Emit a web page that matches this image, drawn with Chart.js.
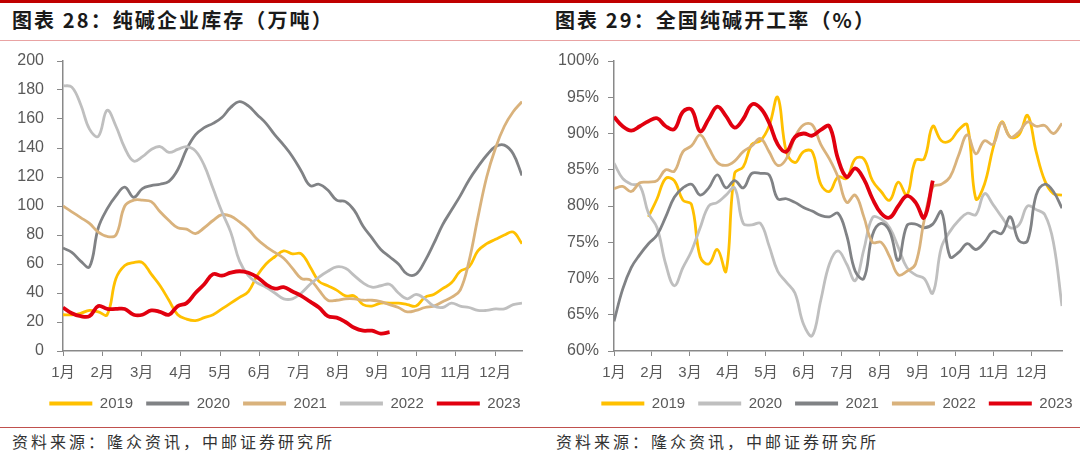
<!DOCTYPE html>
<html>
<head>
<meta charset="utf-8">
<script src="https://cdn.jsdelivr.net/npm/chart.js@4.4.1/dist/chart.umd.min.js"></script>
<style>
    body { margin: 0; width: 1080px; height: 461px; background: #fff; position: relative; overflow: hidden; font-family: "Noto Sans CJK SC", sans-serif; }
    .bar-top { position: absolute; left: 0; top: 0; width: 1080px; height: 3px; background: #C00000; }
    .title-line { position: absolute; left: 0; top: 40px; width: 1080px; height: 1px; background: #E9A3A3; }
    .foot-line { position: absolute; left: 0; top: 427px; width: 1080px; height: 1px; background: #C0504D; }
    .title { position: absolute; top: 5px; font-size: 20px; font-weight: bold; color: #1a1a1a; letter-spacing: 2.1px; }
    .source { position: absolute; top: 429px; font-size: 16px; color: #333; letter-spacing: 3px; }
    .chart { position: absolute; top: 48px; width: 540px; height: 376px; }
</style>
</head>
<body>
<div class="bar-top"></div>
<div class="title" style="left:12px">图表 28：纯碱企业库存（万吨）</div>
<div class="title" style="left:555px">图表 29：全国纯碱开工率（%）</div>
<div class="title-line"></div>
<div class="chart" style="left:0"><canvas id="chartStock"></canvas></div>
<div class="chart" style="left:540px"><canvas id="chartRate"></canvas></div>
<div class="foot-line"></div>
<div class="source" style="left:12px">资料来源：隆众资讯，中邮证券研究所</div>
<div class="source" style="left:556px">资料来源：隆众资讯，中邮证券研究所</div>

<script>
const months = ['1月', '2月', '3月', '4月', '5月', '6月', '7月', '8月', '9月', '10月', '11月', '12月'];
const years = ['2019', '2020', '2021', '2022', '2023'];

// 纯碱企业库存（万吨），周度
const stock2019 = [25, 25, 26, 28, 27, 25, 50, 59, 61, 61, 53, 45, 35, 25, 22, 21, 23, 25, 29, 33, 37, 41, 52, 60, 65, 69, 67, 67, 58, 48, 45, 42, 38, 38, 32, 31, 33, 33, 33, 32, 31, 37, 39, 43, 47, 55, 58, 69, 74, 77, 80, 82, 74];
const stock2020 = [71, 68, 62, 58, 85, 98, 107, 113, 106, 112, 114, 115, 117, 125, 139, 149, 154, 157, 161, 168, 172, 169, 163, 157, 149, 142, 134, 124, 114, 115, 111, 104, 103, 97, 86, 78, 70, 65, 60, 53, 53, 62, 74, 87, 97, 107, 118, 127, 135, 141, 142, 136, 121];
const stock2021 = [100, 96, 92, 88, 82, 79, 80, 100, 104, 104, 103, 96, 90, 85, 84, 81, 85, 90, 94, 93, 89, 84, 77, 72, 68, 64, 57, 50, 49, 42, 35, 35, 36, 36, 35, 35, 34, 32, 30, 27, 28, 30, 31, 34, 37, 42, 62, 92, 120, 140, 155, 165, 172];
const stock2022 = [183, 182, 170, 153, 148, 166, 155, 140, 131, 134, 139, 141, 137, 139, 141, 138, 128, 112, 96, 82, 62, 52, 47, 44, 40, 36, 36, 40, 46, 51, 55, 58, 57, 52, 47, 44, 45, 46, 40, 36, 39, 36, 31, 30, 33, 31, 30, 28, 28, 29, 29, 32, 33];
const stock2023 = [30, 26, 24, 24, 31, 29, 29, 29, 25, 25, 28, 27, 25, 31, 33, 40, 46, 53, 52, 54, 55, 54, 51, 46, 43, 44, 41, 38, 34, 30, 24, 23, 20, 16, 14, 14, 12, 13];

// 全国纯碱开工率（%），周度
const rate2019 = [null, null, null, null, 78.5, 81, 83.8, 83.5, 80.8, 80.2, 73, 72, 74, 71, 84.5, 85.4, 88.5, 89, 91, 95, 87.5, 86, 87.5, 87.5, 83, 82, 84, 83.8, 86.5, 86.5, 83.5, 82, 80.8, 83.3, 81.5, 86.3, 86.5, 91, 89, 89, 90.5, 91.2, 81, 83, 88, 91.6, 89.5, 89.8, 92.5, 87.5, 83.5, 81.7, 81.5];
const rate2020 = [85.9, 83.8, 83, 82.8, 79, 77, 72, 69, 71.5, 73.8, 77, 80, 80.5, 81.5, 82.5, 77.6, 77.4, 77.6, 74.5, 71, 69.5, 68, 63.7, 62.1, 67, 72, 73.8, 72, 69.7, 74, 78.4, 78.2, 77, 74.3, 71.5, 70.5, 70, 68, 74.3, 76.5, 78, 79, 78.8, 81.7, 80.2, 78.5, 77, 77.4, 80, 79.5, 78.8, 75, 66.2];
const rate2021 = [64.1, 68.5, 71.5, 73.3, 74.8, 76, 78.5, 81.2, 82.5, 83, 81.5, 82.5, 84.3, 82.5, 83.5, 82.5, 84.5, 84.5, 84.3, 81, 81, 80.5, 79.8, 79.3, 78.7, 78.5, 79, 76, 71, 70, 76, 77.6, 76.5, 72.5, 77.3, 77.5, 77, 77.5, 79.2, 73, 73.6, 74.8, 74, 75, 76.5, 76.2, 78.5, 75.2, 75.2, 81.5, 83, 82, 79.7];
const rate2022 = [82.4, 82.7, 82, 83.2, 83.3, 83.5, 85, 84.8, 87.5, 88.3, 89.8, 88, 86, 85.6, 86.2, 87.5, 88.3, 89.3, 87.5, 85.6, 86.5, 89.5, 91.2, 91.2, 88.5, 86.5, 84, 80.5, 81.5, 78.5, 75, 75, 73, 70.5, 71, 72, 78, 82.6, 83, 84, 87, 89.8, 87.2, 89, 88.5, 91.5, 89.5, 90.2, 91.6, 91, 91.1, 90, 91.4];
const rate2023 = [92.3, 91, 90.4, 91, 91.7, 92.1, 91, 90.6, 93, 93.3, 90.3, 92, 93.7, 92.4, 90.8, 92, 94, 93.5, 91.5, 88.5, 87.5, 89.5, 90, 89.7, 90.5, 91, 86.5, 84, 85.2, 83.7, 81, 79, 78.4, 80, 81.4, 80.5, 78.4, 83.5];

const YELLOW = '#FFC000';
const DARK = '#808285';
const TAN = '#D9B27C';
const LIGHT = '#BFBFBF';
const RED = '#E1000F';
const AXIS = '#898989';
const TEXT = '#595959';

Chart.defaults.font.family = '"Liberation Sans", "Noto Sans CJK SC", sans-serif';
Chart.defaults.font.size = 15;
Chart.defaults.color = TEXT;

// moves the legend sideways/up without touching the plot area
const legendShift = {
    id: 'legendShift',
    afterLayout(chart, args, opts) {
        const l = chart.legend;
        l.left += opts.dx;
        l.right += opts.dx;
        l.top += opts.dy;
        l.bottom += opts.dy;
    }
};

function toPoints(values) {
    return values.map((v, i) => ({ x: i, y: v })).filter((p) => p.y !== null);
}

function buildChart(id, series, colors, yScale, yWidth, weeksPerMonth, dx) {
    new Chart(document.getElementById(id), {
        type: 'line',
        data: {
            datasets: series.map((values, i) => ({
                label: years[i],
                data: toPoints(values),
                borderColor: colors[i],
                backgroundColor: colors[i],
                borderWidth: i === 4 ? 3.8 : 2.8,
                pointRadius: 0,
                tension: 0.4,
                order: 4 - i
            }))
        },
        options: {
            responsive: true,
            maintainAspectRatio: false,
            animation: false,
            layout: { padding: { top: 13, right: 18, left: 0, bottom: 0 } },
            plugins: {
                tooltip: { enabled: false },
                legendShift: { dx: dx, dy: -3 },
                legend: {
                    position: 'bottom',
                    labels: {
                        boxWidth: 43,
                        boxHeight: 4,
                        padding: 13,
                        color: TEXT,
                        generateLabels: (chart) => chart.data.datasets.map((ds, i) => ({
                            text: ds.label,
                            fillStyle: ds.borderColor,
                            strokeStyle: ds.borderColor,
                            lineWidth: 0,
                            datasetIndex: i,
                            fontColor: TEXT
                        }))
                    }
                }
            },
            scales: {
                x: {
                    type: 'linear',
                    min: 0,
                    max: 52,
                    afterBuildTicks: (scale) => {
                        scale.ticks = months.map((m, k) => ({ value: k * weeksPerMonth }));
                    },
                    afterFit: (scale) => { scale.height = 35; },
                    ticks: {
                        autoSkip: false,
                        maxRotation: 0,
                        padding: 8,
                        callback: (value, index) => months[index]
                    },
                    grid: { drawOnChartArea: false, drawTicks: true, tickLength: 5, color: AXIS },
                    border: { display: true, color: AXIS, width: 1.5 }
                },
                y: Object.assign({
                    afterFit: (scale) => {
                        scale.width = yWidth;
                        scale.paddingTop = 0;
                        scale.paddingBottom = 0;
                    },
                    grid: { drawOnChartArea: false, drawTicks: true, tickLength: 6, color: AXIS },
                    border: { display: true, color: AXIS, width: 1.5 }
                }, yScale)
            }
        },
        plugins: [legendShift]
    });
}

buildChart('chartStock',
    [stock2019, stock2020, stock2021, stock2022, stock2023],
    [YELLOW, DARK, TAN, LIGHT, RED],
    { min: 0, max: 200, ticks: { stepSize: 20, padding: 13, font: { size: 16 } } },
    63, 4.45, 24);

buildChart('chartRate',
    [rate2019, rate2020, rate2021, rate2022, rate2023],
    [YELLOW, LIGHT, DARK, TAN, RED],
    { min: 60, max: 100, ticks: { stepSize: 5, padding: 9, font: { size: 16 }, callback: (v) => v + '%' } },
    74, 4.41, 36);
</script>
</body>
</html>
